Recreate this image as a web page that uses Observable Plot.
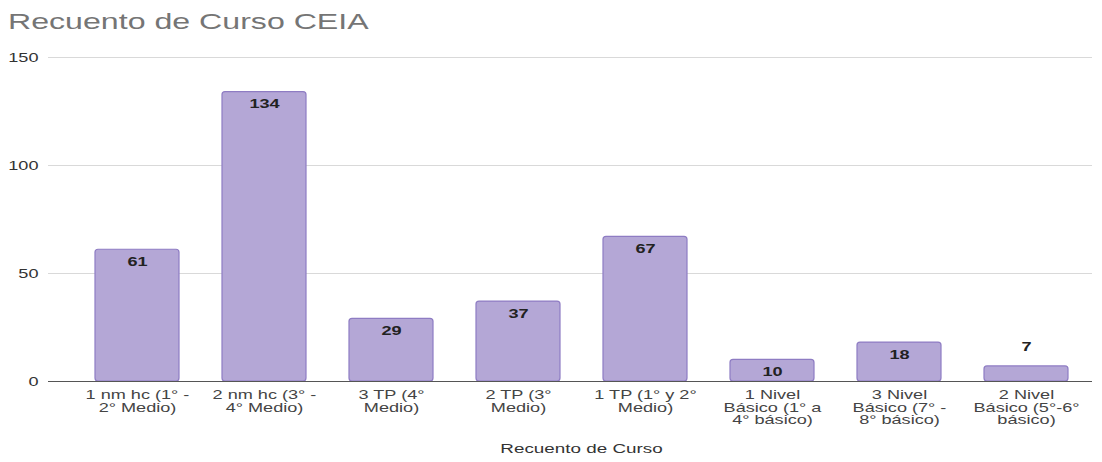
<!DOCTYPE html>
<html>
<head>
<meta charset="utf-8">
<script src="https://cdn.jsdelivr.net/npm/d3@7"></script>
<script src="https://cdn.jsdelivr.net/npm/@observablehq/plot@0.6"></script>
<style>
  body { margin: 0; background: #fff; font-family: "Liberation Sans", Arial, sans-serif; }
  #titlebox { height: 45px; box-sizing: border-box; padding: 8px 0 0 8px; }
  #title { display: inline-block; font-size: 22px; color: #757575; line-height: 28px; transform: scaleX(1.46); transform-origin: left center; }
</style>
</head>
<body>
<div id="titlebox"><span id="title">Recuento de Curso CEIA</span></div>
<div id="chart"></div>
<script>
const categories = [
  "1 nm hc (1° - 2° Medio)",
  "2 nm hc (3° - 4° Medio)",
  "3 TP (4° Medio)",
  "2 TP (3° Medio)",
  "1 TP (1° y 2° Medio)",
  "1 Nivel Básico (1° a 4° básico)",
  "3 Nivel Básico (7° - 8° básico)",
  "2 Nivel Básico (5°-6° básico)"
];
const tickLabels = [
  "1 nm hc (1° -\n2° Medio)",
  "2 nm hc (3° -\n4° Medio)",
  "3 TP (4°\nMedio)",
  "2 TP (3°\nMedio)",
  "1 TP (1° y 2°\nMedio)",
  "1 Nivel\nBásico (1° a\n4° básico)",
  "3 Nivel\nBásico (7° -\n8° básico)",
  "2 Nivel\nBásico (5°-6°\nbásico)"
];
const values = [61, 134, 29, 37, 67, 10, 18, 7];
const yTicks = [0, 50, 100, 150];

const data = categories.map((c, i) => ({category: c, value: values[i]}));
const labelOf = new Map(categories.map((c, i) => [c, tickLabels[i]]));
const FONT = "'Liberation Sans', Arial, sans-serif";
const STRETCH = 1.45;

const chart = Plot.plot({
  width: 1102,
  height: 417,
  marginTop: 12,
  marginLeft: 48,
  marginRight: 10,
  marginBottom: 81,
  style: {fontFamily: FONT, background: "#fff"},
  x: {domain: categories, insetLeft: 23, insetRight: 1, paddingInner: 0.34, paddingOuter: 0.17, label: null},
  y: {domain: [0, 150], ticks: yTicks, label: null},
  marks: [
    Plot.gridY(yTicks, {stroke: "#d9d9d9", strokeOpacity: 1, strokeWidth: 1}),
    Plot.axisY(yTicks, {tickSize: 0, tickPadding: 10, fontSize: 12.5, fill: "#333", label: null}),
    Plot.barY(data, {x: "category", y: "value", fill: "#b4a7d6", stroke: "#8e7cc3", strokeWidth: 1.2, rx: 3}),
    Plot.ruleY([0], {stroke: "#555", strokeWidth: 1.2}),
    Plot.axisX({tickSize: 0, tickPadding: 9, fontSize: 12.5, fill: "#444", lineHeight: 1.0,
      tickFormat: d => labelOf.get(d), label: null}),
    Plot.text(data.filter(d => d.value >= 10), {x: "category", y: "value", text: d => String(d.value),
      dy: 12, fontSize: 12.5, fontWeight: "bold", fill: "#222"}),
    Plot.text(data.filter(d => d.value < 10), {x: "category", y: "value", text: d => String(d.value),
      dy: -19, fontSize: 12.5, fontWeight: "bold", fill: "#222"}),
    Plot.text(["Recuento de Curso"], {frameAnchor: "bottom", dy: 71, dx: 11, fontSize: 13, fill: "#333"})
  ]
});

// the reference's lettering is drawn horizontally stretched: widen each text about its anchor point
chart.querySelectorAll("text").forEach(t => {
  let tr = t.getAttribute("transform") || "";
  const x = t.getAttribute("x");
  if (x !== null && isFinite(+x)) {
    tr += ` translate(${+x},0)`;
    t.removeAttribute("x");
  }
  t.setAttribute("transform", `${tr} scale(${STRETCH},1)`);
});

document.getElementById("chart").appendChild(chart);
</script>
</body>
</html>
